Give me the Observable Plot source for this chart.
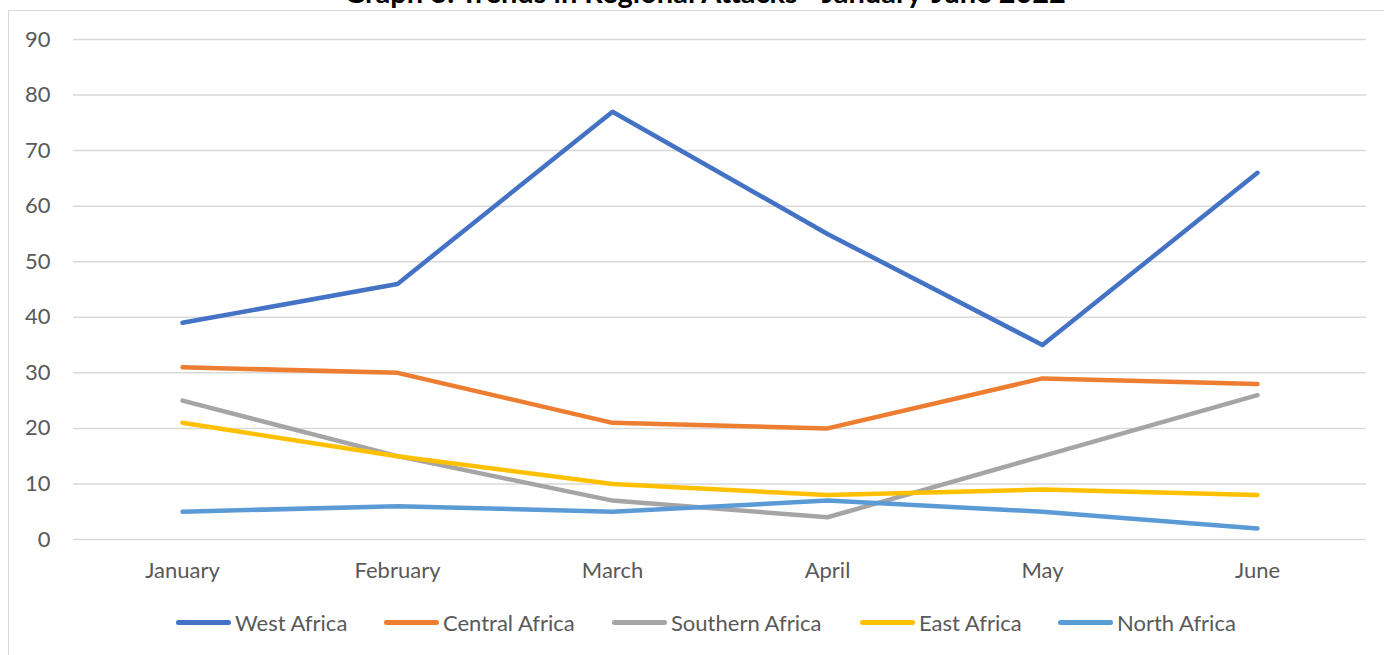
<!DOCTYPE html>
<html>
<head>
<meta charset="utf-8">
<script src="https://cdn.jsdelivr.net/npm/d3@7"></script>
<script src="https://cdn.jsdelivr.net/npm/@observablehq/plot@0.6"></script>
<style>
  html, body { margin: 0; padding: 0; background: #fff; overflow: hidden; width: 1384px; height: 655px; }
  #frame { position: absolute; left: 8px; top: 10px; width: 1400px; height: 700px; border: 1.5px solid #d9d9d9; box-sizing: border-box; }
  #title { position: absolute; left: 0; width: 1410px; top: -26px; text-align: center; font-family: Lato, sans-serif; font-weight: bold; font-size: 29px; color: #000; white-space: nowrap; }
  #chart { position: absolute; left: 0; top: 0; }
  #legend { position: absolute; top: 609px; left: 0; width: 1384px; font-family: Lato, sans-serif; font-size: 22px; color: #595959; }
  .item { position: absolute; display: flex; align-items: center; white-space: nowrap; }
  .sw { display: inline-block; width: 55px; height: 5px; border-radius: 3px; margin-right: 4px; }
</style>
</head>
<body>
<div id="frame"></div>
<div id="title">Graph 3: Trends in Regional Attacks - January-June 2022</div>
<div id="chart"></div>
<div id="legend"></div>
<script>
const months = ["January", "February", "March", "April", "May", "June"];
const seriesNames = ["West Africa", "Central Africa", "Southern Africa", "East Africa", "North Africa"];
const seriesColors = ["#4472C4", "#ED7D31", "#A5A5A5", "#FFC000", "#5B9BD5"];
const westAfrica = [39, 46, 77, 55, 35, 66];
const centralAfrica = [31, 30, 21, 20, 29, 28];
const southernAfrica = [25, 15, 7, 4, 15, 26];
const eastAfrica = [21, 15, 10, 8, 9, 8];
const northAfrica = [5, 6, 5, 7, 5, 2];
const yTicks = [0, 10, 20, 30, 40, 50, 60, 70, 80, 90];
const legendX = [176, 384, 612, 860, 1058];

const allSeries = [westAfrica, centralAfrica, southernAfrica, eastAfrica, northAfrica];
const data = [];
allSeries.forEach((vals, i) => vals.forEach((v, j) => data.push({series: seriesNames[i], month: months[j], value: v})));

const chart = Plot.plot({
  width: 1384,
  height: 600,
  marginLeft: 73,
  marginRight: 18,
  marginTop: 39,
  marginBottom: 61,
  style: {fontFamily: "Lato, sans-serif", fontSize: "22px", color: "#595959", background: "transparent"},
  x: {type: "point", domain: months, padding: 0.5, label: null},
  y: {domain: [0, 90], ticks: yTicks, label: null},
  color: {domain: seriesNames, range: seriesColors},
  marks: [
    Plot.gridY(yTicks, {stroke: "#d9d9d9", strokeOpacity: 1, strokeWidth: 1.5}),
    Plot.axisY(yTicks, {tickSize: 0, tickPadding: 23, label: null, fill: "#595959"}),
    Plot.axisX({tickSize: 0, tickPadding: 23, label: null, fill: "#595959"}),
    Plot.line(data, {x: "month", y: "value", z: "series", stroke: "series", strokeWidth: 4.5, strokeLinecap: "round", strokeLinejoin: "round"})
  ]
});
document.getElementById("chart").appendChild(chart);

const legend = document.getElementById("legend");
seriesNames.forEach((name, i) => {
  const item = document.createElement("div");
  item.className = "item";
  item.style.left = legendX[i] + "px";
  const sw = document.createElement("span");
  sw.className = "sw";
  sw.style.background = seriesColors[i];
  const t = document.createElement("span");
  t.textContent = name;
  item.appendChild(sw);
  item.appendChild(t);
  legend.appendChild(item);
});
</script>
</body>
</html>
